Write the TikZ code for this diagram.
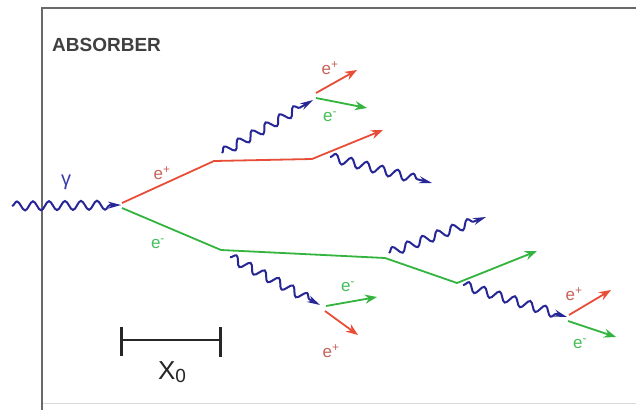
\documentclass[tikz,border=0pt]{standalone}
\usepackage{fontspec}
\setmainfont{Liberation Sans}
\usetikzlibrary{arrows.meta,decorations.pathmorphing}
\definecolor{pred}{RGB}{232,78,55}
\definecolor{pgreen}{RGB}{50,180,62}
\definecolor{pblue}{RGB}{38,38,150}
\definecolor{lred}{RGB}{200,100,90}
\definecolor{lgreen}{RGB}{70,190,90}
\definecolor{lblue}{RGB}{60,60,170}
\definecolor{frame}{RGB}{105,105,105}
\tikzset{
  photon/.style={pblue, line width=2pt, decorate,
    decoration={snake, amplitude=4.5pt, segment length=16pt, post length=10pt},
    -{Stealth[length=13pt,width=7pt]}},
  eplus/.style={pred, line width=1.8pt, -{Stealth[length=12pt,width=9pt]}},
  eminus/.style={pgreen, line width=1.8pt, -{Stealth[length=12pt,width=9pt]}},
  lblp/.style={lred, font=\fontsize{17}{17}\selectfont, inner sep=0pt},
  lblm/.style={lgreen, font=\fontsize{17}{17}\selectfont, inner sep=0pt},
}
\begin{document}
\begin{tikzpicture}[x=1pt,y=-1pt]
\useasboundingbox (0,0) rectangle (636,410);
\fill[white] (0,0) rectangle (636,410);
% absorber frame
\draw[black!15, line width=1pt] (42,403) -- (636,403);
\draw[frame, line width=2pt] (42,410) -- (42,8) -- (636,8);
\node[anchor=west, text=black!75, font=\bfseries\fontsize{19}{19}\selectfont, inner sep=0pt] (abs) at (52,45) {ABSORBER};

% coordinates
\coordinate (g0) at (12,206);
\coordinate (v0) at (121,205);
\coordinate (v0p) at (122,203);
\coordinate (v0m) at (122,208);
\coordinate (k1) at (214,161);
\coordinate (k2) at (312,159);
\coordinate (r1) at (383,130);
\coordinate (p1s) at (222,153);
\coordinate (p1e) at (313,100);
\coordinate (v1a) at (316,93);
\coordinate (v1b) at (316,98);
\coordinate (v1r) at (357,70);
\coordinate (v1g) at (367,108);
\coordinate (p2s) at (330,157);
\coordinate (p2e) at (432,183);
\coordinate (k3) at (221,250);
\coordinate (k4) at (385,258);
\coordinate (k5) at (457,283);
\coordinate (g5) at (537,251);
\coordinate (p3s) at (230,257);
\coordinate (p3e) at (320,305);
\coordinate (v2g) at (326,306);
\coordinate (v2r) at (325,311);
\coordinate (v2ge) at (377,297);
\coordinate (v2re) at (358,335);
\coordinate (p4s) at (389,253);
\coordinate (p4e) at (486,217);
\coordinate (p5s) at (463,285);
\coordinate (p5e) at (567,317);
\coordinate (v3r) at (569,315);
\coordinate (v3g) at (568,321);
\coordinate (v3re) at (611,290);
\coordinate (v3ge) at (616,337);

% incoming photon
\draw[photon] (g0) -- (v0);
\node[lblue, font=\fontsize{20}{20}\selectfont, inner sep=0pt] (gam) at (66,182) {γ};

% first pair
\draw[eplus] (v0p) -- (k1) -- (k2) -- (r1);
\draw[eminus] (v0m) -- (k3) -- (k4) -- (k5) -- (g5);
\node[lblp] (l1) at (162,173) {e\textsuperscript{+}};
\node[lblm] (l2) at (158,244) {e\textsuperscript{-}};

% photons
\draw[photon] (p1s) -- (p1e);
\draw[photon] (p2s) -- (p2e);
\draw[photon] (p3s) -- (p3e);
\draw[photon] (p4s) -- (p4e);
\draw[photon] (p5s) -- (p5e);

% pair 1 (top)
\draw[eplus] (v1a) -- (v1r);
\draw[eminus] (v1b) -- (v1g);
\node[lblp] (l3) at (330,68) {e\textsuperscript{+}};
\node[lblm] (l4) at (330,117) {e\textsuperscript{-}};

% pair 2 (middle bottom)
\draw[eminus] (v2g) -- (v2ge);
\draw[eplus] (v2r) -- (v2re);
\node[lblm] (l5) at (348,287) {e\textsuperscript{-}};
\node[lblp] (l6) at (331,351) {e\textsuperscript{+}};

% pair 3 (right)
\draw[eplus] (v3r) -- (v3re);
\draw[eminus] (v3g) -- (v3ge);
\node[lblp] (l7) at (574,294) {e\textsuperscript{+}};
\node[lblm] (l8) at (580,344) {e\textsuperscript{-}};

% radiation length scale bar
\coordinate (sbl) at (121,340);
\coordinate (sbr) at (220,340);
\draw[black!85, line width=2.4pt] (sbl) -- (sbr);
\draw[black!85, line width=3pt] (121,327) -- (121,356);
\draw[black!85, line width=3pt] (220,327) -- (220,357);
\node[text=black!85, font=\fontsize{26}{26}\selectfont, inner sep=0pt] (x0) at (172,372) {X\raisebox{-3pt}{\fontsize{19}{19}\selectfont 0}};
\end{tikzpicture}
\end{document}
